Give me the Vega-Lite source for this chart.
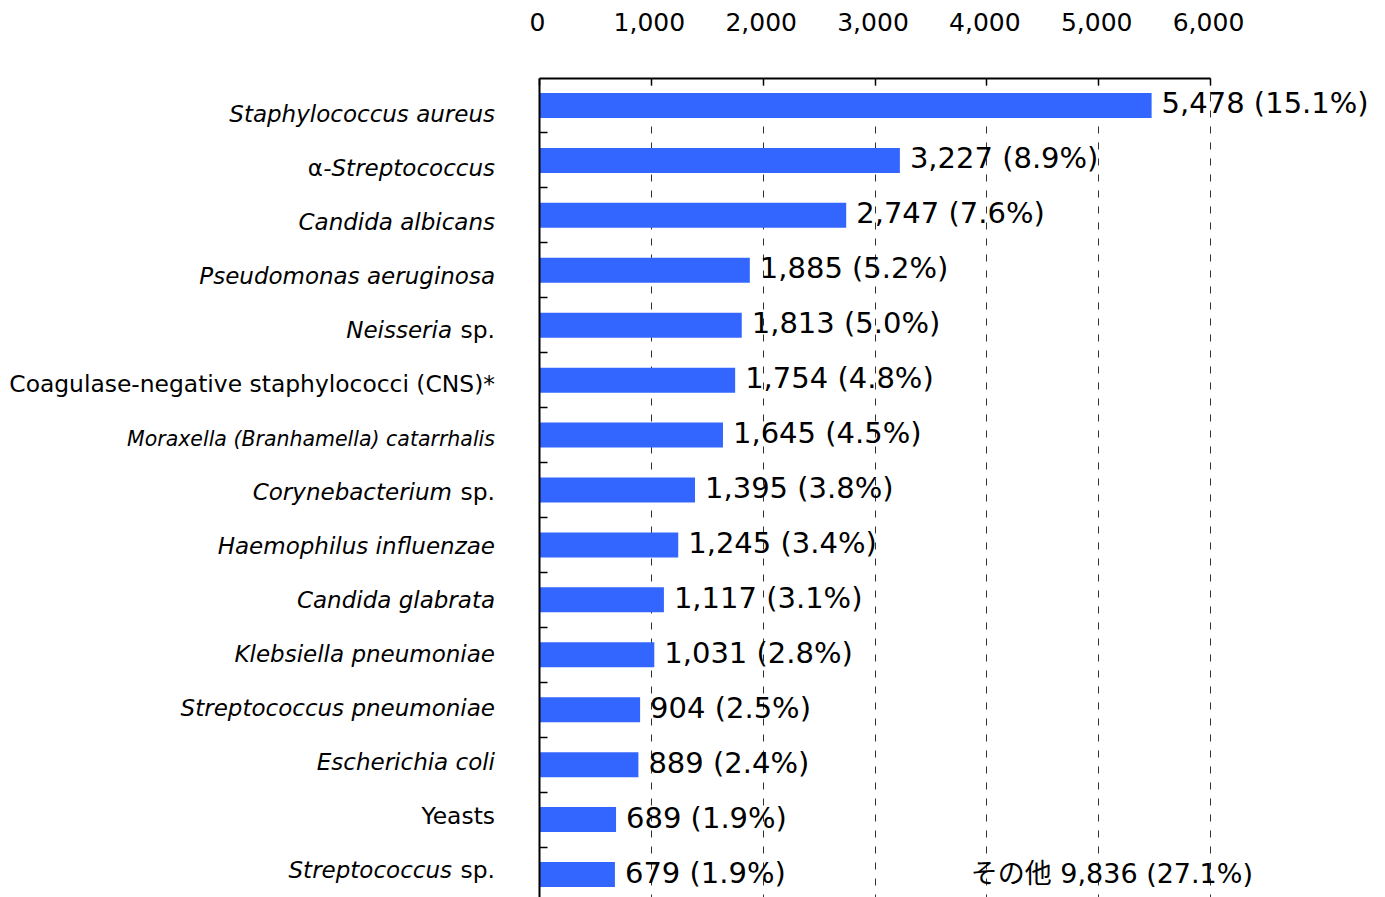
{
  "$schema": "https://vega.github.io/schema/vega-lite/v6.json",
  "autosize": "none",
  "padding": {"left": 539, "top": 78, "right": 175, "bottom": 0},
  "width": 671,
  "height": 819,
  "config": {"view": {"stroke": null}, "font": "DejaVu Sans"},
  "datasets": {
    "main": [
      {"name": "Staphylococcus aureus", "pre": "", "ital": "Staphylococcus aureus", "suf": "", "count": 5478, "label": "5,478 (15.1%)"},
      {"name": "α-Streptococcus", "pre": "α", "ital": "-Streptococcus", "suf": "", "count": 3227, "label": "3,227 (8.9%)"},
      {"name": "Candida albicans", "pre": "", "ital": "Candida albicans", "suf": "", "count": 2747, "label": "2,747 (7.6%)"},
      {"name": "Pseudomonas aeruginosa", "pre": "", "ital": "Pseudomonas aeruginosa", "suf": "", "count": 1885, "label": "1,885 (5.2%)"},
      {"name": "Neisseria sp.", "pre": "", "ital": "Neisseria", "suf": "sp.", "count": 1813, "label": "1,813 (5.0%)"},
      {"name": "Coagulase-negative staphylococci (CNS)*", "pre": "", "ital": "", "suf": "Coagulase-negative staphylococci (CNS)*", "count": 1754, "label": "1,754 (4.8%)"},
      {"name": "Moraxella (Branhamella) catarrhalis", "pre": "", "ital": "Moraxella (Branhamella) catarrhalis", "suf": "", "count": 1645, "label": "1,645 (4.5%)"},
      {"name": "Corynebacterium sp.", "pre": "", "ital": "Corynebacterium", "suf": "sp.", "count": 1395, "label": "1,395 (3.8%)"},
      {"name": "Haemophilus influenzae", "pre": "", "ital": "Haemophilus influenzae", "suf": "", "count": 1245, "label": "1,245 (3.4%)"},
      {"name": "Candida glabrata", "pre": "", "ital": "Candida glabrata", "suf": "", "count": 1117, "label": "1,117 (3.1%)"},
      {"name": "Klebsiella pneumoniae", "pre": "", "ital": "Klebsiella pneumoniae", "suf": "", "count": 1031, "label": "1,031 (2.8%)"},
      {"name": "Streptococcus pneumoniae", "pre": "", "ital": "Streptococcus pneumoniae", "suf": "", "count": 904, "label": "904 (2.5%)"},
      {"name": "Escherichia coli", "pre": "", "ital": "Escherichia coli", "suf": "", "count": 889, "label": "889 (2.4%)"},
      {"name": "Yeasts", "pre": "", "ital": "", "suf": "Yeasts", "count": 689, "label": "689 (1.9%)"},
      {"name": "Streptococcus sp.", "pre": "", "ital": "Streptococcus", "suf": "sp.", "count": 679, "label": "679 (1.9%)"}
    ]
  },
  "resolve": {"scale": {"y": "independent"}},
  "layer": [
    {
      "layer": [
        {
          "data": {"name": "main"},
          "mark": {"type": "bar", "color": "#3366FF"},
          "encoding": {
            "x": {
              "field": "count", "type": "quantitative",
              "scale": {"domain": [0, 6000], "nice": false, "zero": true},
              "axis": {
                "orient": "top", "title": null,
                "values": [0, 1000, 2000, 3000, 4000, 5000, 6000],
                "format": ",d",
                "labelFont": "DejaVu Sans", "labelFontSize": 25, "labelColor": "#000",
                "labelBaseline": "alphabetic", "labelPadding": 55, "labelOffset": -2,
                "labelFlush": false, "labelOverlap": false,
                "domain": true, "domainColor": "#000", "domainWidth": 2,
                "ticks": true, "tickColor": "#000", "tickWidth": 1.5, "tickSize": -7,
                "grid": true, "gridColor": "#333", "gridDash": [7, 9], "gridWidth": 1
              }
            },
            "y": {
              "field": "name", "type": "nominal", "sort": null,
              "scale": {"range": [0, 824], "paddingInner": 0.545, "paddingOuter": 0.2727},
              "axis": {
                "orient": "left", "title": null, "labels": false,
                "domain": true, "domainColor": "#000", "domainWidth": 2,
                "ticks": true, "tickColor": "#000", "tickWidth": 1.5, "tickSize": -8,
                "bandPosition": 1.6, "grid": false, "zindex": 1
              }
            }
          }
        },
        {
          "data": {"name": "main"},
          "mark": {"type": "text", "align": "left", "baseline": "alphabetic", "dx": 10, "dy": 8, "fontSize": 29, "font": "DejaVu Sans", "color": "#000"},
          "encoding": {
            "x": {"field": "count", "type": "quantitative"},
            "y": {"field": "name", "type": "nominal", "sort": null},
            "text": {"field": "label"}
          }
        },
        {
          "data": {"values": [{"t": "その他 9,836 (27.1%)"}]},
          "mark": {"type": "text", "align": "left", "baseline": "alphabetic", "dy": 8, "fontSize": 27, "font": "DejaVu Sans, Noto Sans CJK JP", "color": "#000"},
          "encoding": {
            "x": {"datum": 3860, "type": "quantitative"},
            "y": {"datum": "Streptococcus sp.", "type": "nominal"},
            "text": {"field": "t"}
          }
        }
      ]
    },
    {
      "resolve": {"scale": {"y": "shared"}},
      "layer": [
        {
          "data": {"name": "main"},
          "transform": [{"filter": "datum.suf === '' && datum.name !== 'Moraxella (Branhamella) catarrhalis'"}],
          "mark": {"type": "text", "align": "right", "baseline": "alphabetic", "dx": -44, "dy": 8.5, "fontSize": 23, "fontStyle": "italic", "font": "DejaVu Sans", "color": "#000"},
          "encoding": {
            "x": {"datum": 0, "type": "quantitative"},
            "y": {"field": "name", "type": "nominal", "sort": null, "axis": null,
                  "scale": {"domain": ["Staphylococcus aureus", "α-Streptococcus", "Candida albicans", "Pseudomonas aeruginosa", "Neisseria sp.", "Coagulase-negative staphylococci (CNS)*", "Moraxella (Branhamella) catarrhalis", "Corynebacterium sp.", "Haemophilus influenzae", "Candida glabrata", "Klebsiella pneumoniae", "Streptococcus pneumoniae", "Escherichia coli", "Yeasts", "Streptococcus sp."], "range": [8.7, 818.7], "paddingInner": 0, "paddingOuter": 0}},
            "text": {"field": "ital"}
          }
        },
        {
          "data": {"name": "main"},
          "transform": [{"filter": "datum.name === 'Moraxella (Branhamella) catarrhalis'"}],
          "mark": {"type": "text", "align": "right", "baseline": "alphabetic", "dx": -44, "dy": 8, "fontSize": 20.5, "fontStyle": "italic", "font": "DejaVu Sans", "color": "#000"},
          "encoding": {
            "x": {"datum": 0, "type": "quantitative"},
            "y": {"field": "name", "type": "nominal", "sort": null, "axis": null},
            "text": {"field": "ital"}
          }
        },
        {
          "data": {"name": "main"},
          "transform": [{"filter": "datum.suf === 'sp.'"}],
          "mark": {"type": "text", "align": "right", "baseline": "alphabetic", "dx": -87, "dy": 8.5, "fontSize": 23, "fontStyle": "italic", "font": "DejaVu Sans", "color": "#000"},
          "encoding": {
            "x": {"datum": 0, "type": "quantitative"},
            "y": {"field": "name", "type": "nominal", "sort": null, "axis": null},
            "text": {"field": "ital"}
          }
        },
        {
          "data": {"name": "main"},
          "transform": [{"filter": "datum.suf !== ''"}],
          "mark": {"type": "text", "align": "right", "baseline": "alphabetic", "dx": -44, "dy": 8.5, "fontSize": 23.4, "font": "DejaVu Sans", "color": "#000"},
          "encoding": {
            "x": {"datum": 0, "type": "quantitative"},
            "y": {"field": "name", "type": "nominal", "sort": null, "axis": null},
            "text": {"field": "suf"}
          }
        },
        {
          "data": {"name": "main"},
          "transform": [{"filter": "datum.pre !== ''"}],
          "mark": {"type": "text", "align": "right", "baseline": "alphabetic", "dx": -216, "dy": 8.5, "fontSize": 23, "font": "DejaVu Sans", "color": "#000"},
          "encoding": {
            "x": {"datum": 0, "type": "quantitative"},
            "y": {"field": "name", "type": "nominal", "sort": null, "axis": null},
            "text": {"field": "pre"}
          }
        }
      ]
    }
  ]
}
